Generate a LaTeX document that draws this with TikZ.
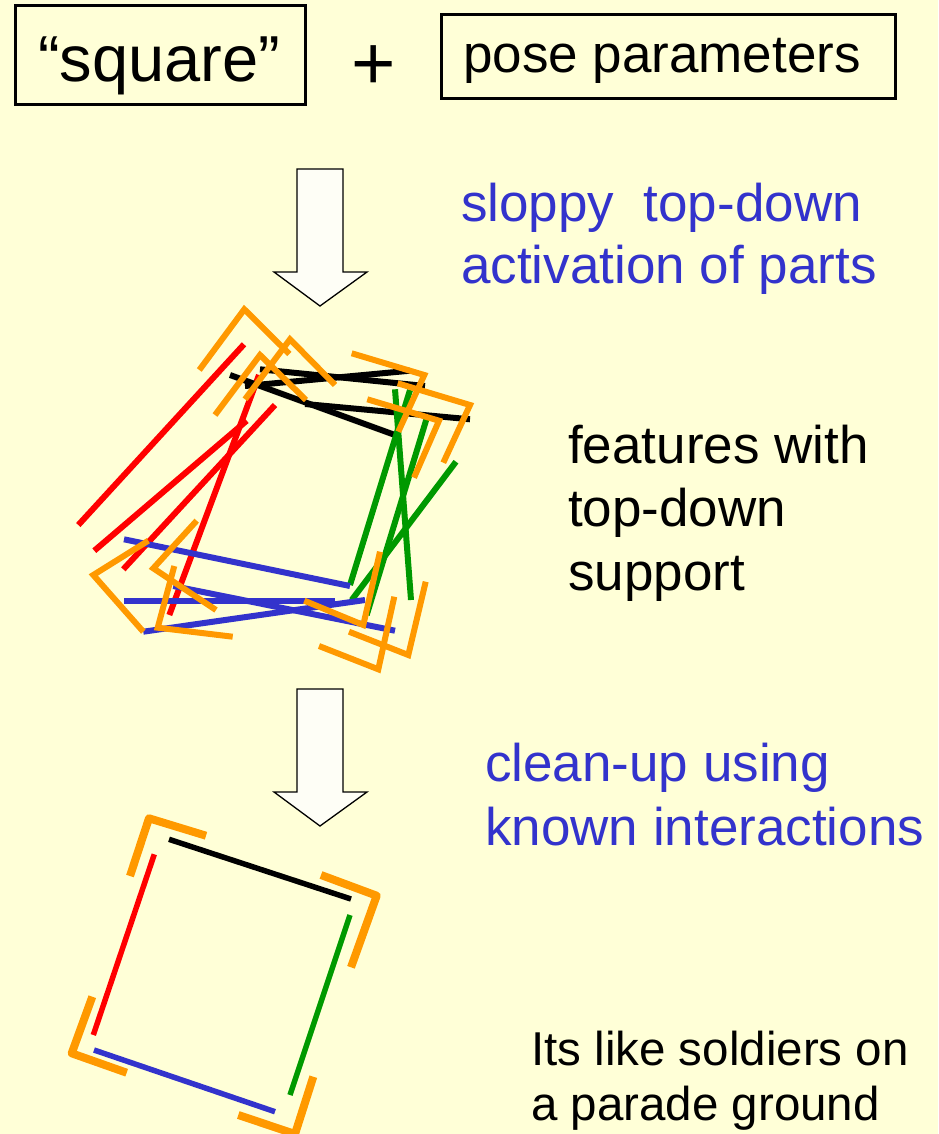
\documentclass[tikz,border=0pt]{standalone}
\usepackage{fontspec}
\setmainfont{Liberation Sans}
\definecolor{bgyel}{RGB}{255,255,215}
\definecolor{tblue}{RGB}{51,51,204}
\definecolor{orng}{RGB}{255,153,0}
\definecolor{grn}{RGB}{0,153,0}
\definecolor{rd}{RGB}{255,0,0}
\definecolor{arrfill}{RGB}{254,254,246}
\begin{document}
\begin{tikzpicture}[x=1pt,y=-1pt,
  lbl/.style={anchor=base west,inner sep=0pt,align=left,font=\fontsize{53pt}{62pt}\selectfont},
  boxed/.style={draw=black,line width=3pt},
  blockarrow/.style={draw=black,fill=arrfill,line width=1.3pt,line join=miter},
  seg/.style={line width=6pt},
  cseg/.style={line width=5.5pt},
  corner/.style={line width=8pt,line join=round,draw=orng},
  mcorner/.style={line width=6pt,draw=orng}]
\fill[bgyel] (0,0) rectangle (938,1134);
\useasboundingbox (0,0) rectangle (938,1134);
% top boxes
\draw[boxed] (15.7,6) rectangle (305,105);
\node[anchor=base west,inner sep=0pt,font=\fontsize{65pt}{70pt}\selectfont] (sq) at (38,82) {“square”};
\node[inner sep=0pt,font=\fontsize{76pt}{80pt}\selectfont] (plus) at (374,68) {+};
\draw[boxed] (441.7,15) rectangle (895,98.3);
\node[lbl] (pose) at (463,73) {pose parameters};
% block arrows
\draw[blockarrow] (297,169) -- (343,169) -- (343,272) -- (367,272) -- (320,306) -- (274,272) -- (297,272) -- cycle;
\draw[blockarrow] (297,689) -- (343,689) -- (343,792) -- (367,792) -- (320,826) -- (274,792) -- (297,792) -- cycle;
% texts (anchor at baseline of last line)
\node[lbl,text=tblue] (t1) at (461,283) {sloppy\ \ top-down\\activation of parts};
\node[lbl,font=\fontsize{53pt}{63.5pt}\selectfont] (t2) at (568,590) {features with\\top-down\\support};
\node[lbl,font=\fontsize{53pt}{63.5pt}\selectfont,text=tblue] (t3) at (485,845) {clean-up using\\known interactions};
\node[lbl,font=\fontsize{47.5pt}{55pt}\selectfont] (t4) at (531,1120) {Its like soldiers on\\a parade ground};
% messy square
\begin{scope}[seg]
\draw[rd] (78.3,525) -- (244,344.3);
\draw[rd] (94.3,550.7) -- (246.7,420.7);
\draw[rd] (123.3,569.3) -- (275,405);
\draw[rd] (169.3,615) -- (259,375);
\draw[black] (230,375) -- (395,435);
\draw[black] (260,369.3) -- (425,386);
\draw[black] (245,386) -- (410,370.7);
\draw[black] (305,404) -- (470,419.3);
\draw[grn] (350,585) -- (410,390);
\draw[grn] (395,389.3) -- (411,600);
\draw[grn] (366.7,615) -- (426.7,418.3);
\draw[grn] (351.7,600) -- (456,461.7);
\draw[tblue] (124,539.3) -- (350,586);
\draw[tblue] (124,601) -- (335,601);
\draw[tblue] (143.3,631.7) -- (365,600);
\draw[tblue] (173.3,586) -- (395,630.7);
\end{scope}
\begin{scope}[mcorner]
\draw (199.3,370) -- (244.3,309.3) -- (289.3,354);
\draw (215,415) -- (260,355) -- (306,400);
\draw (245,399.3) -- (290,339.3) -- (335,385);
\draw (351.7,353.3) -- (424.3,375) -- (398.3,431.7);
\draw (397.7,383.3) -- (470,405) -- (443.3,462.7);
\draw (367.3,399.3) -- (439,420.7) -- (414,477.7);
\draw (148.3,540.7) -- (93.3,575) -- (143.3,631.7);
\draw (196.7,520.7) -- (153.3,568.3) -- (216,610);
\draw (174.3,566) -- (157.7,627.7) -- (232.7,636.7);
\draw (304.3,600.7) -- (363.3,625) -- (380,551.7);
\draw (319,646) -- (378.3,669.3) -- (394.3,596.7);
\draw (349,631.7) -- (408.3,655) -- (425.7,581.7);
\end{scope}
% clean square
\begin{scope}[cseg]
\draw[black] (169,839.3) -- (351,899);
\draw[grn] (350,915) -- (290,1095);
\draw[tblue] (94,1050) -- (275,1111.7);
\draw[rd] (154.3,854.3) -- (93.3,1035);
\end{scope}
\draw[corner] (130,876) -- (149,818.3) -- (206,835.7);
\draw[corner] (321,875) -- (376.7,895.7) -- (351,967.3);
\draw[corner] (92.3,996.7) -- (71.7,1053.3) -- (126.7,1072.7);
\draw[corner] (238.3,1115) -- (295,1134) -- (313.3,1076.7);
\end{tikzpicture}
\end{document}
